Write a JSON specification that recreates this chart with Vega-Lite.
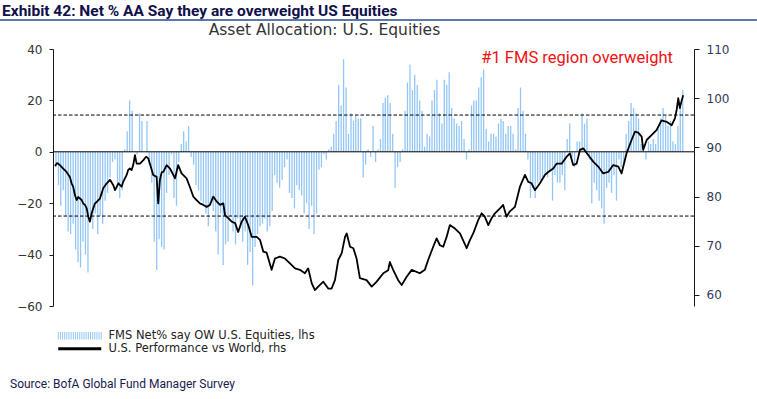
{
  "$schema": "https://vega.github.io/schema/vega-lite/v6.json",
  "width": 641,
  "height": 257,
  "autosize": {"type": "none"},
  "padding": {"left": 53, "top": 49, "right": 63, "bottom": 93},
  "background": "white",
  "config": {
    "view": {"stroke": null},
    "axis": {"grid": false, "domainColor": "#1a1a1a", "tickColor": "#1a1a1a", "labelFont": "DejaVu Sans", "labelFontSize": 12, "domainWidth": 1, "tickWidth": 1}
  },
  "datasets": {
    "fms": [
      {"d":"1999-01-15","v":-6},{"d":"1999-02-15","v":-13},{"d":"1999-03-15","v":-21},{"d":"1999-04-15","v":-15},{"d":"1999-05-15","v":-25},{"d":"1999-06-15","v":-31},{"d":"1999-07-15","v":-32},{"d":"1999-08-15","v":-28},{"d":"1999-09-15","v":-38},{"d":"1999-10-15","v":-43},{"d":"1999-11-15","v":-45},{"d":"1999-12-15","v":-35},
      {"d":"2000-01-15","v":-40},{"d":"2000-02-15","v":-47},{"d":"2000-03-15","v":-27},{"d":"2000-04-15","v":-30},{"d":"2000-05-15","v":-24},{"d":"2000-06-15","v":-32},{"d":"2000-07-15","v":-25},{"d":"2000-08-15","v":-28},{"d":"2000-09-15","v":-19},{"d":"2000-10-15","v":-16},{"d":"2000-11-15","v":-10},{"d":"2000-12-15","v":-4},
      {"d":"2001-01-15","v":-3},{"d":"2001-02-15","v":-12},{"d":"2001-03-15","v":-18},{"d":"2001-04-15","v":-15},{"d":"2001-05-15","v":1},{"d":"2001-06-15","v":8},{"d":"2001-07-15","v":20},{"d":"2001-08-15","v":16},{"d":"2001-09-15","v":0},{"d":"2001-10-15","v":-1},{"d":"2001-11-15","v":15},{"d":"2001-12-15","v":12},
      {"d":"2002-01-15","v":0},{"d":"2002-02-15","v":12},{"d":"2002-03-15","v":-5},{"d":"2002-04-15","v":-12},{"d":"2002-05-15","v":-35},{"d":"2002-06-15","v":-46},{"d":"2002-07-15","v":-34},{"d":"2002-08-15","v":-37},{"d":"2002-09-15","v":-38},{"d":"2002-10-15","v":-16},{"d":"2002-11-15","v":-9},{"d":"2002-12-15","v":-1},
      {"d":"2003-01-15","v":-18},{"d":"2003-02-15","v":-21},{"d":"2003-03-15","v":-4},{"d":"2003-04-15","v":3},{"d":"2003-05-15","v":8},{"d":"2003-06-15","v":4},{"d":"2003-07-15","v":10},{"d":"2003-08-15","v":-2},{"d":"2003-09-15","v":-5},{"d":"2003-10-15","v":-13},{"d":"2003-11-15","v":-15},{"d":"2003-12-15","v":-19},
      {"d":"2004-01-15","v":-20},{"d":"2004-02-15","v":-24},{"d":"2004-03-15","v":-29},{"d":"2004-04-15","v":-19},{"d":"2004-05-15","v":-23},{"d":"2004-06-15","v":-31},{"d":"2004-07-15","v":-40},{"d":"2004-08-15","v":-24},{"d":"2004-09-15","v":-44},{"d":"2004-10-15","v":-36},{"d":"2004-11-15","v":-35},{"d":"2004-12-15","v":-25},
      {"d":"2005-01-15","v":-31},{"d":"2005-02-15","v":-36},{"d":"2005-03-15","v":-26},{"d":"2005-04-15","v":-28},{"d":"2005-05-15","v":-35},{"d":"2005-06-15","v":-31},{"d":"2005-07-15","v":-44},{"d":"2005-08-15","v":-39},{"d":"2005-09-15","v":-52},{"d":"2005-10-15","v":-37},{"d":"2005-11-15","v":-32},{"d":"2005-12-15","v":-29},
      {"d":"2006-01-15","v":-28},{"d":"2006-02-15","v":-26},{"d":"2006-03-15","v":-31},{"d":"2006-04-15","v":-29},{"d":"2006-05-15","v":-23},{"d":"2006-06-15","v":-9},{"d":"2006-07-15","v":-12},{"d":"2006-08-15","v":-14},{"d":"2006-09-15","v":-11},{"d":"2006-10-15","v":-6},{"d":"2006-11-15","v":-3},{"d":"2006-12-15","v":-16},
      {"d":"2007-01-15","v":-18},{"d":"2007-02-15","v":-22},{"d":"2007-03-15","v":-13},{"d":"2007-04-15","v":-15},{"d":"2007-05-15","v":-17},{"d":"2007-06-15","v":-24},{"d":"2007-07-15","v":-20},{"d":"2007-08-15","v":-30},{"d":"2007-09-15","v":-21},{"d":"2007-10-15","v":-32},{"d":"2007-11-15","v":-24},{"d":"2007-12-15","v":-7},
      {"d":"2008-01-15","v":-6},{"d":"2008-02-15","v":-1},{"d":"2008-03-15","v":-3},{"d":"2008-04-15","v":1},{"d":"2008-05-15","v":2},{"d":"2008-06-15","v":7},{"d":"2008-07-15","v":12},{"d":"2008-08-15","v":26},{"d":"2008-09-15","v":18},{"d":"2008-10-15","v":36},{"d":"2008-11-15","v":25},{"d":"2008-12-15","v":7},
      {"d":"2009-01-15","v":15},{"d":"2009-02-15","v":12},{"d":"2009-03-15","v":14},{"d":"2009-04-15","v":13},{"d":"2009-05-15","v":13},{"d":"2009-06-15","v":-10},{"d":"2009-07-15","v":-5},{"d":"2009-08-15","v":1},{"d":"2009-09-15","v":-2},{"d":"2009-10-15","v":10},{"d":"2009-11-15","v":-4},{"d":"2009-12-15","v":1},
      {"d":"2010-01-15","v":5},{"d":"2010-02-15","v":19},{"d":"2010-03-15","v":21},{"d":"2010-04-15","v":22},{"d":"2010-05-15","v":19},{"d":"2010-06-15","v":7},{"d":"2010-07-15","v":-14},{"d":"2010-08-15","v":-6},{"d":"2010-09-15","v":-4},{"d":"2010-10-15","v":1},{"d":"2010-11-15","v":16},{"d":"2010-12-15","v":27},
      {"d":"2011-01-15","v":34},{"d":"2011-02-15","v":24},{"d":"2011-03-15","v":30},{"d":"2011-04-15","v":26},{"d":"2011-05-15","v":20},{"d":"2011-06-15","v":16},{"d":"2011-07-15","v":2},{"d":"2011-08-15","v":7},{"d":"2011-09-15","v":6},{"d":"2011-10-15","v":20},{"d":"2011-11-15","v":24},{"d":"2011-12-15","v":28},
      {"d":"2012-01-15","v":15},{"d":"2012-02-15","v":11},{"d":"2012-03-15","v":28},{"d":"2012-04-15","v":26},{"d":"2012-05-15","v":31},{"d":"2012-06-15","v":17},{"d":"2012-07-15","v":13},{"d":"2012-08-15","v":11},{"d":"2012-09-15","v":10},{"d":"2012-10-15","v":12},{"d":"2012-11-15","v":5},{"d":"2012-12-15","v":-3},
      {"d":"2013-01-15","v":1},{"d":"2013-02-15","v":18},{"d":"2013-03-15","v":20},{"d":"2013-04-15","v":20},{"d":"2013-05-15","v":25},{"d":"2013-06-15","v":29},{"d":"2013-07-15","v":32},{"d":"2013-08-15","v":9},{"d":"2013-09-15","v":4},{"d":"2013-10-15","v":7},{"d":"2013-11-15","v":7},{"d":"2013-12-15","v":6},
      {"d":"2014-01-15","v":11},{"d":"2014-02-15","v":13},{"d":"2014-03-15","v":12},{"d":"2014-04-15","v":7},{"d":"2014-05-15","v":10},{"d":"2014-06-15","v":10},{"d":"2014-07-15","v":7},{"d":"2014-08-15","v":1},{"d":"2014-09-15","v":17},{"d":"2014-10-15","v":25},{"d":"2014-11-15","v":16},{"d":"2014-12-15","v":7},
      {"d":"2015-01-15","v":-3},{"d":"2015-02-15","v":-18},{"d":"2015-03-15","v":-14},{"d":"2015-04-15","v":-18},{"d":"2015-05-15","v":-12},{"d":"2015-06-15","v":-11},{"d":"2015-07-15","v":-10},{"d":"2015-08-15","v":-9},{"d":"2015-09-15","v":-10},{"d":"2015-10-15","v":-8},{"d":"2015-11-15","v":-19},{"d":"2015-12-15","v":-9},
      {"d":"2016-01-15","v":-12},{"d":"2016-02-15","v":-12},{"d":"2016-03-15","v":-9},{"d":"2016-04-15","v":-15},{"d":"2016-05-15","v":5},{"d":"2016-06-15","v":11},{"d":"2016-07-15","v":-2},{"d":"2016-08-15","v":-6},{"d":"2016-09-15","v":4},{"d":"2016-10-15","v":4},{"d":"2016-11-15","v":15},{"d":"2016-12-15","v":11},
      {"d":"2017-01-15","v":13},{"d":"2017-02-15","v":-3},{"d":"2017-03-15","v":-20},{"d":"2017-04-15","v":-12},{"d":"2017-05-15","v":-15},{"d":"2017-06-15","v":-19},{"d":"2017-07-15","v":-22},{"d":"2017-08-15","v":-28},{"d":"2017-09-15","v":-14},{"d":"2017-10-15","v":-12},{"d":"2017-11-15","v":-16},{"d":"2017-12-15","v":-9},
      {"d":"2018-01-15","v":-19},{"d":"2018-02-15","v":-3},{"d":"2018-03-15","v":-6},{"d":"2018-04-15","v":-4},{"d":"2018-05-15","v":7},{"d":"2018-06-15","v":12},{"d":"2018-07-15","v":19},{"d":"2018-08-15","v":17},{"d":"2018-09-15","v":15},{"d":"2018-10-15","v":13},{"d":"2018-11-15","v":3},{"d":"2018-12-15","v":3},
      {"d":"2019-01-15","v":-3},{"d":"2019-02-15","v":4},{"d":"2019-03-15","v":3},{"d":"2019-04-15","v":5},{"d":"2019-05-15","v":3},{"d":"2019-06-15","v":10},{"d":"2019-07-15","v":13},{"d":"2019-08-15","v":17},{"d":"2019-09-15","v":14},{"d":"2019-10-15","v":10},{"d":"2019-11-15","v":12},{"d":"2019-12-15","v":4},
      {"d":"2020-01-15","v":3},{"d":"2020-02-15","v":10},{"d":"2020-03-15","v":18},{"d":"2020-04-15","v":24}
    ],
    "perf": [
      {"d":"1999-01-03","r":86.2},{"d":"1999-01-28","r":86.8},{"d":"1999-03-04","r":86.4},{"d":"1999-04-14","r":85.7},{"d":"1999-05-26","r":85.0},{"d":"1999-07-06","r":84.0},{"d":"1999-07-27","r":82.7},{"d":"1999-08-16","r":82.0},{"d":"1999-09-07","r":80.3},{"d":"1999-09-28","r":79.3},{"d":"1999-10-17","r":79.9},{"d":"1999-11-08","r":79.6},{"d":"1999-11-29","r":79.3},{"d":"1999-12-18","r":78.6},
      {"d":"2000-01-09","r":78.3},{"d":"2000-01-30","r":77.6},{"d":"2000-02-19","r":75.9},{"d":"2000-03-10","r":74.9},{"d":"2000-04-01","r":76.6},{"d":"2000-04-20","r":77.6},{"d":"2000-05-11","r":78.6},{"d":"2000-06-02","r":78.9},{"d":"2000-07-12","r":79.6},{"d":"2000-08-03","r":80.7},{"d":"2000-08-22","r":81.7},{"d":"2000-10-04","r":82.7},{"d":"2000-11-14","r":83.4},{"d":"2000-12-25","r":82.3},
      {"d":"2001-01-15","r":81.3},{"d":"2001-02-06","r":82.0},{"d":"2001-02-25","r":82.7},{"d":"2001-04-07","r":82.0},{"d":"2001-04-26","r":83.0},{"d":"2001-06-08","r":84.4},{"d":"2001-06-27","r":85.4},{"d":"2001-07-18","r":85.7},{"d":"2001-08-09","r":85.4},{"d":"2001-08-28","r":86.4},{"d":"2001-09-19","r":88.4},{"d":"2001-10-10","r":86.7},{"d":"2001-11-20","r":86.7},
      {"d":"2002-01-01","r":87.4},{"d":"2002-02-03","r":88.1},{"d":"2002-03-02","r":87.8},{"d":"2002-03-22","r":86.7},{"d":"2002-05-03","r":84.4},{"d":"2002-06-14","r":84.0},{"d":"2002-07-04","r":78.6},{"d":"2002-07-25","r":83.4},{"d":"2002-08-15","r":84.9},{"d":"2002-09-05","r":85.0},{"d":"2002-10-16","r":86.4},{"d":"2002-11-27","r":85.7},
      {"d":"2003-01-28","r":83.7},{"d":"2003-03-08","r":86.4},{"d":"2003-04-19","r":84.7},{"d":"2003-06-20","r":83.7},{"d":"2003-07-30","r":82.0},{"d":"2003-09-11","r":80.0},{"d":"2003-10-22","r":79.3},{"d":"2003-12-02","r":78.6},
      {"d":"2004-01-13","r":78.3},{"d":"2004-02-24","r":77.9},{"d":"2004-04-04","r":78.3},{"d":"2004-05-15","r":80.0},{"d":"2004-06-26","r":79.0},{"d":"2004-08-07","r":78.3},{"d":"2004-09-17","r":78.6},{"d":"2004-10-08","r":76.2},{"d":"2004-11-18","r":75.6},{"d":"2004-12-29","r":74.9},
      {"d":"2005-02-10","r":74.6},{"d":"2005-03-20","r":72.8},{"d":"2005-05-02","r":74.9},{"d":"2005-06-12","r":75.9},{"d":"2005-07-22","r":74.2},{"d":"2005-09-04","r":71.8},{"d":"2005-11-05","r":71.8},{"d":"2005-12-15","r":71.2},
      {"d":"2006-01-25","r":68.8},{"d":"2006-03-07","r":68.6},{"d":"2006-05-08","r":65.1},{"d":"2006-06-18","r":67.4},{"d":"2006-08-19","r":67.8},{"d":"2006-10-20","r":67.4},{"d":"2006-12-21","r":66.4},
      {"d":"2007-02-22","r":65.4},{"d":"2007-04-23","r":65.1},{"d":"2007-06-24","r":64.4},{"d":"2007-08-04","r":65.4},{"d":"2007-09-16","r":62.4},{"d":"2007-10-26","r":61.0},{"d":"2007-12-06","r":61.7},
      {"d":"2008-02-07","r":62.7},{"d":"2008-04-08","r":61.3},{"d":"2008-05-20","r":61.3},{"d":"2008-06-30","r":63.0},{"d":"2008-08-10","r":67.1},{"d":"2008-09-22","r":68.5},{"d":"2008-11-02","r":71.8},{"d":"2008-11-23","r":72.5},
      {"d":"2009-01-03","r":69.8},{"d":"2009-02-13","r":69.5},{"d":"2009-03-25","r":67.4},{"d":"2009-05-05","r":63.4},{"d":"2009-07-27","r":63.0},{"d":"2009-09-28","r":61.7},{"d":"2009-11-29","r":62.7},
      {"d":"2010-02-19","r":64.4},{"d":"2010-04-20","r":65.0},{"d":"2010-05-11","r":66.7},{"d":"2010-06-21","r":65.1},{"d":"2010-08-22","r":63.0},{"d":"2010-10-04","r":62.0},{"d":"2010-12-05","r":63.7},
      {"d":"2011-02-06","r":65.1},{"d":"2011-05-17","r":64.4},{"d":"2011-07-18","r":65.1},{"d":"2011-08-28","r":67.1},{"d":"2011-10-30","r":69.8},{"d":"2011-12-11","r":71.5},
      {"d":"2012-01-21","r":70.1},{"d":"2012-03-02","r":69.8},{"d":"2012-04-13","r":71.8},{"d":"2012-05-23","r":74.2},{"d":"2012-07-25","r":73.5},{"d":"2012-09-25","r":72.5},{"d":"2012-12-17","r":69.5},
      {"d":"2013-01-28","r":71.2},{"d":"2013-03-08","r":72.5},{"d":"2013-05-09","r":75.2},{"d":"2013-06-20","r":76.6},{"d":"2013-07-30","r":75.9},{"d":"2013-09-11","r":74.2},{"d":"2013-10-22","r":75.6},{"d":"2013-12-02","r":76.6},
      {"d":"2014-02-03","r":77.6},{"d":"2014-03-14","r":78.3},{"d":"2014-04-25","r":75.9},{"d":"2014-06-05","r":77.0},{"d":"2014-08-07","r":77.9},{"d":"2014-10-08","r":82.0},{"d":"2014-12-09","r":84.4},
      {"d":"2015-01-19","r":83.0},{"d":"2015-03-01","r":82.7},{"d":"2015-04-11","r":81.3},{"d":"2015-06-12","r":82.7},{"d":"2015-08-13","r":84.4},{"d":"2015-09-23","r":85.0},{"d":"2015-11-24","r":85.7},
      {"d":"2016-01-06","r":86.7},{"d":"2016-03-07","r":86.7},{"d":"2016-05-08","r":88.1},{"d":"2016-06-18","r":88.8},{"d":"2016-07-28","r":86.4},{"d":"2016-09-09","r":86.7},{"d":"2016-10-20","r":89.5},{"d":"2016-11-30","r":89.8},
      {"d":"2017-02-01","r":88.4},{"d":"2017-04-02","r":87.1},{"d":"2017-06-03","r":86.1},{"d":"2017-08-04","r":84.7},{"d":"2017-10-05","r":85.0},{"d":"2017-12-06","r":86.4},
      {"d":"2018-02-07","r":86.1},{"d":"2018-03-19","r":84.7},{"d":"2018-05-20","r":88.8},{"d":"2018-07-21","r":91.5},{"d":"2018-09-01","r":93.2},{"d":"2018-10-11","r":93.0},{"d":"2018-11-23","r":92.2},{"d":"2018-12-12","r":89.5},
      {"d":"2019-01-24","r":91.5},{"d":"2019-03-25","r":92.5},{"d":"2019-05-26","r":93.5},{"d":"2019-07-27","r":95.5},{"d":"2019-09-28","r":95.2},{"d":"2019-11-29","r":94.5},
      {"d":"2020-01-09","r":95.9},{"d":"2020-01-30","r":97.6},{"d":"2020-02-19","r":100.0},{"d":"2020-03-10","r":98.0},{"d":"2020-04-01","r":99.5},{"d":"2020-04-20","r":100.6}
    ]
  },
  "layer": [
    {
      "data": {"name": "fms"},
      "mark": {"type": "rule", "strokeWidth": 1.3},
      "encoding": {
        "x": {"field": "d", "type": "temporal",
          "scale": {"domain": [{"year": 1998, "month": 12, "date": 9}, {"year": 2020, "month": 9, "date": 1}], "nice": false},
          "axis": {"orient": "bottom", "title": null, "format": "%y", "tickCount": {"interval": "year", "step": 1}, "labelOffset": 14.75, "labelFlush": false, "labelOverlap": false, "tickSize": 3.5, "labelPadding": 1.5, "labelBaseline": "top", "labelColor": "#222222", "labelExpr": "year(datum.value) >= 2020 ? '' : datum.label"}},
        "y": {"field": "v", "type": "quantitative",
          "scale": {"domain": [-60, 40], "nice": false, "zero": false},
          "axis": {"orient": "left", "title": null, "values": [-60, -40, -20, 0, 20, 40], "tickSize": 4, "labelPadding": 7, "labelColor": "#333333"}},
        "y2": {"datum": 0},
        "color": {"datum": "FMS Net% say OW U.S. Equities, lhs",
          "scale": {"domain": ["FMS Net% say OW U.S. Equities, lhs", "U.S. Performance vs World, rhs"], "range": ["#94c6f5", "#000000"]},
          "legend": {"orient": "none", "legendX": 21, "legendY": 281, "title": null, "padding": 0, "symbolSize": 100, "labelOffset": 23, "rowPadding": 0, "labelFont": "DejaVu Sans", "labelFontSize": 11.5, "labelColor": "#222222", "labelLimit": 500,
            "encode": {"symbols": {"update": {
              "shape": {"signal": "datum.index == 0 ? 'M-4.3,-0.75L-4.3,0.75M-3.87,-0.75L-3.87,0.75M-3.44,-0.75L-3.44,0.75M-3.01,-0.75L-3.01,0.75M-2.58,-0.75L-2.58,0.75M-2.15,-0.75L-2.15,0.75M-1.72,-0.75L-1.72,0.75M-1.29,-0.75L-1.29,0.75M-0.86,-0.75L-0.86,0.75M-0.43,-0.75L-0.43,0.75M0,-0.75L0,0.75M0.43,-0.75L0.43,0.75M0.86,-0.75L0.86,0.75M1.29,-0.75L1.29,0.75M1.72,-0.75L1.72,0.75M2.15,-0.75L2.15,0.75M2.58,-0.75L2.58,0.75M3.01,-0.75L3.01,0.75M3.44,-0.75L3.44,0.75M3.87,-0.75L3.87,0.75M4.3,-0.75L4.3,0.75' : 'M-4.3,0L4.3,0'"},
              "strokeWidth": {"signal": "datum.index == 0 ? 1 : 3"},
              "fill": {"value": "transparent"}
            }}}
          }}
      }
    },
    {
      "data": {"values": [{}]},
      "mark": {"type": "rule", "color": "#000000", "strokeWidth": 1},
      "encoding": {"y": {"datum": 0, "type": "quantitative", "scale": {"domain": [-60, 40], "nice": false, "zero": false}, "axis": null}}
    },
    {
      "data": {"values": [{"h": 14.3}, {"h": -25}]},
      "mark": {"type": "rule", "color": "#000000", "strokeWidth": 1, "strokeDash": [3.5, 2]},
      "encoding": {"y": {"field": "h", "type": "quantitative", "scale": {"domain": [-60, 40], "nice": false, "zero": false}, "axis": null}}
    },
    {
      "data": {"values": [{}]},
      "mark": {"type": "rule", "color": "#5b78ad", "strokeWidth": 2},
      "encoding": {
        "x": {"datum": {"year": 1997, "month": 2, "date": 21}, "type": "temporal", "scale": {"domain": [{"year": 1998, "month": 12, "date": 9}, {"year": 2020, "month": 9, "date": 1}], "nice": false}, "axis": null},
        "x2": {"datum": {"year": 2022, "month": 10, "date": 20}},
        "y": {"datum": 51.28, "type": "quantitative", "scale": {"domain": [-60, 40], "nice": false, "zero": false}, "axis": null}
      }
    },
    {
      "data": {"values": [{}]},
      "mark": {"type": "text", "text": "Exhibit 42: Net % AA Say they are overweight US Equities", "font": "Roboto", "fontWeight": "bold", "fontSize": 15.5, "align": "left", "baseline": "alphabetic", "color": "#10104a"},
      "encoding": {
        "x": {"datum": {"year": 1997, "month": 3, "date": 18}, "type": "temporal", "scale": {"domain": [{"year": 1998, "month": 12, "date": 9}, {"year": 2020, "month": 9, "date": 1}], "nice": false}, "axis": null},
        "y": {"datum": 52.65, "type": "quantitative", "scale": {"domain": [-60, 40], "nice": false, "zero": false}, "axis": null}
      }
    },
    {
      "data": {"values": [{}]},
      "mark": {"type": "text", "text": "Asset Allocation: U.S. Equities", "font": "DejaVu Sans", "fontSize": 15.5, "align": "center", "baseline": "alphabetic", "color": "#333333"},
      "encoding": {
        "x": {"datum": {"year": 2008, "month": 2, "date": 21}, "type": "temporal", "scale": {"domain": [{"year": 1998, "month": 12, "date": 9}, {"year": 2020, "month": 9, "date": 1}], "nice": false}, "axis": null},
        "y": {"datum": 45.45, "type": "quantitative", "scale": {"domain": [-60, 40], "nice": false, "zero": false}, "axis": null}
      }
    },
    {
      "data": {"values": [{}]},
      "mark": {"type": "text", "text": "#1 FMS region overweight", "font": "Roboto", "fontSize": 16.5, "align": "right", "baseline": "alphabetic", "color": "#ee1111"},
      "encoding": {
        "x": {"datum": {"year": 2019, "month": 12, "date": 15}, "type": "temporal", "scale": {"domain": [{"year": 1998, "month": 12, "date": 9}, {"year": 2020, "month": 9, "date": 1}], "nice": false}, "axis": null},
        "y": {"datum": 34.44, "type": "quantitative", "scale": {"domain": [-60, 40], "nice": false, "zero": false}, "axis": null}
      }
    },
    {
      "data": {"values": [{}]},
      "mark": {"type": "text", "text": "Source: BofA Global Fund Manager Survey", "font": "Roboto", "fontSize": 12, "align": "left", "baseline": "alphabetic", "color": "#1a1a50"},
      "encoding": {
        "x": {"datum": {"year": 1997, "month": 6, "date": 25}, "type": "temporal", "scale": {"domain": [{"year": 1998, "month": 12, "date": 9}, {"year": 2020, "month": 9, "date": 1}], "nice": false}, "axis": null},
        "y": {"datum": -91.9, "type": "quantitative", "scale": {"domain": [-60, 40], "nice": false, "zero": false}, "axis": null}
      }
    },
    {
      "data": {"name": "perf"},
      "mark": {"type": "line", "strokeWidth": 1.8, "strokeJoin": "round"},
      "encoding": {
        "x": {"field": "d", "type": "temporal", "scale": {"domain": [{"year": 1998, "month": 12, "date": 9}, {"year": 2020, "month": 9, "date": 1}], "nice": false}, "axis": null},
        "y": {"field": "r", "type": "quantitative",
          "scale": {"domain": [57.75, 110], "nice": false, "zero": false},
          "axis": {"orient": "right", "title": null, "values": [60, 70, 80, 90, 100, 110], "tickSize": 5, "labelPadding": 7, "labelColor": "#2e3a5c"}},
        "color": {"datum": "U.S. Performance vs World, rhs"}
      }
    }
  ],
  "resolve": {"scale": {"y": "independent"}}
}
